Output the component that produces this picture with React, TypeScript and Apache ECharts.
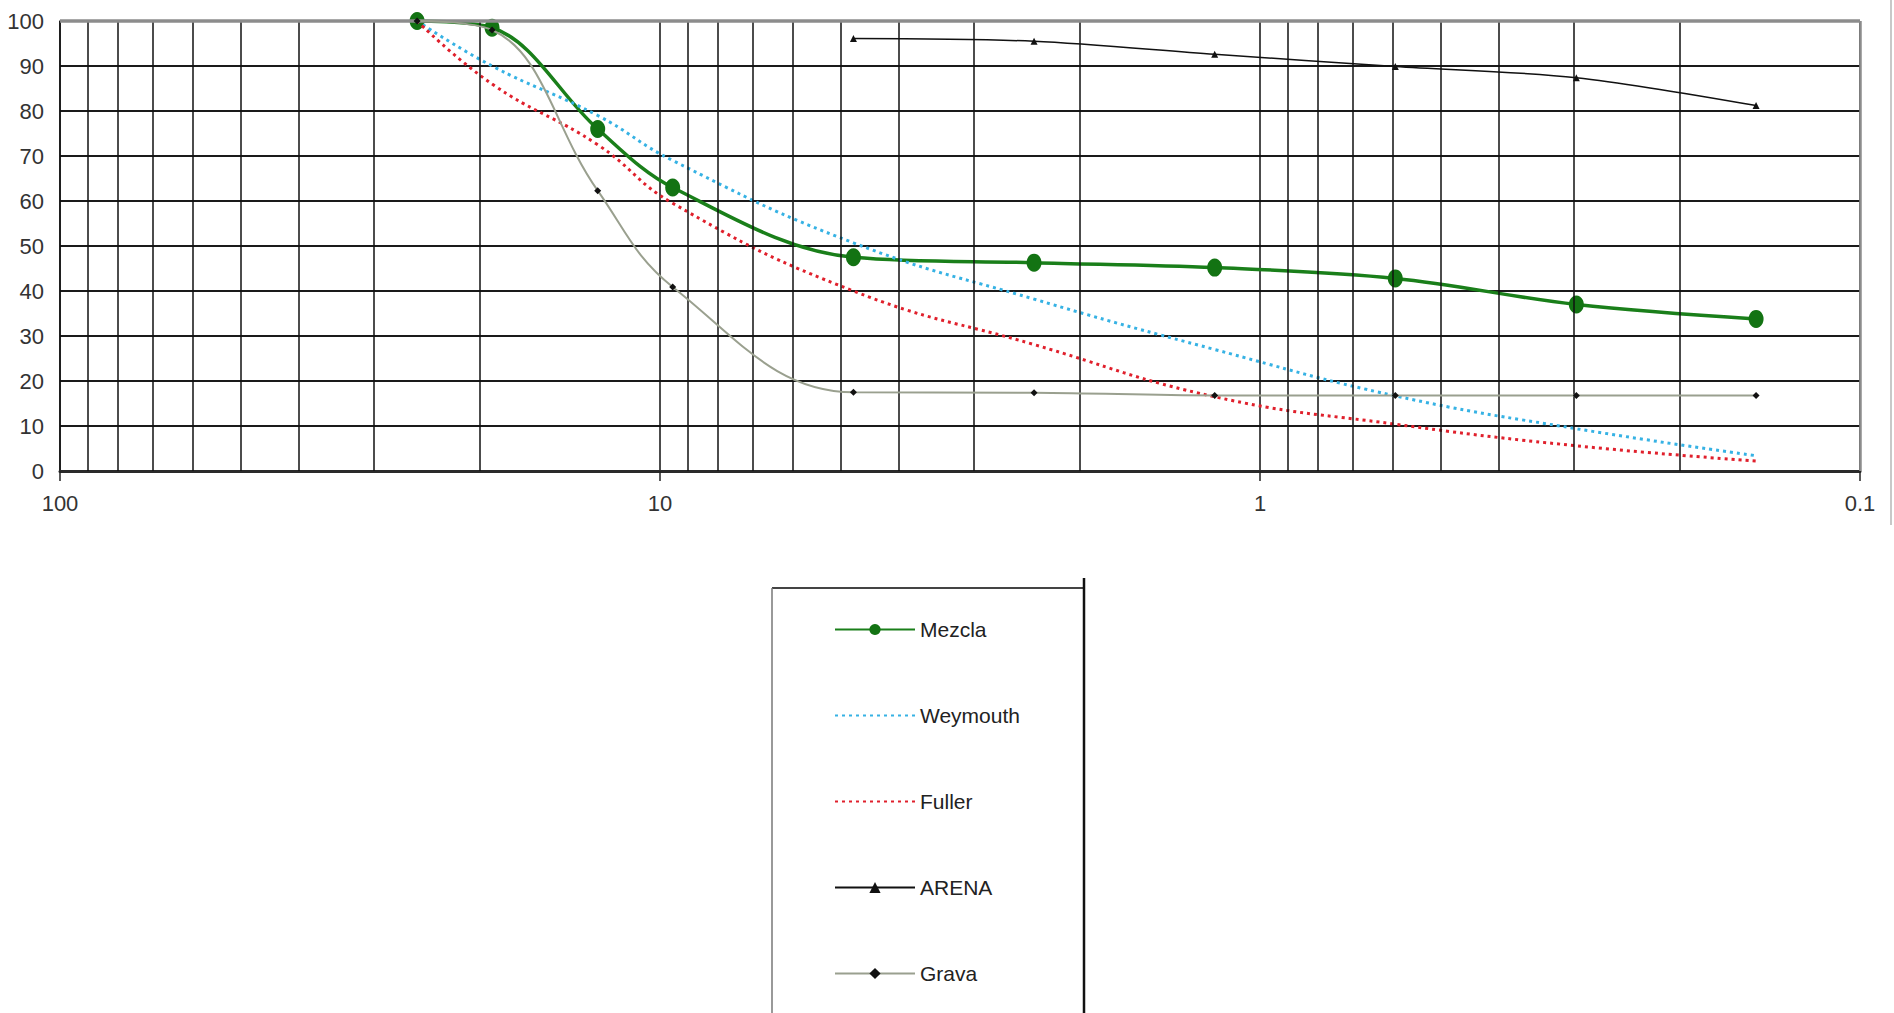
import React, { useEffect, useRef } from "react";
import * as echarts from "echarts";

// Sieve openings (mm) and % passing
const sieves = [25.4, 19.05, 12.7, 9.525, 4.76, 2.38, 1.19, 0.595, 0.297, 0.149];
const mezcla = [100, 98.5, 76, 63, 47.5, 46.3, 45.2, 42.8, 37, 33.8];
const weymouth = [100, 90, 79, 69, 50.7, 38.2, 27, 16.7, 9.4, 3.4];
const fuller = [100, 86, 72.5, 59.5, 40, 28.1, 16.5, 10.4, 5.6, 2.2];
const arena = [null, null, null, null, 96.1, 95.5, 92.6, 89.9, 87.4, 81.2];
const grava = [100, 98, 62.3, 40.9, 17.5, 17.4, 16.8, 16.8, 16.8, 16.8];

const seriesNames = ["Mezcla", "Weymouth", "Fuller", "ARENA", "Grava"];

// log-axis minor grid positions
const minorGrid = [
  90, 80, 70, 60, 50, 40, 30, 20,
  9, 8, 7, 6, 5, 4, 3, 2,
  0.9, 0.8, 0.7, 0.6, 0.5, 0.4, 0.3, 0.2,
];
const xMin = 0.1;
const xMax = 100;
const yMin = 0;
const yMax = 100;
const yStep = 10;

const pairs = (vals: (number | null)[]) =>
  sieves.map((s, i) => [s, vals[i]]).filter((p) => p[1] !== null);

export default function App() {
  const ref = useRef<HTMLDivElement>(null);

  useEffect(() => {
    document.body.style.margin = "0";
    document.body.style.overflow = "hidden";
    const chart = echarts.init(ref.current!, null, { renderer: "svg" });
    const narrow = "'Liberation Sans Narrow', 'Arial Narrow', 'Liberation Sans', Arial, sans-serif";
    const sans = "'Liberation Sans', Arial, sans-serif";
    const ySplitColors = Array.from({ length: 11 }, () => "#1a1a1a");

    chart.setOption({
      animation: false,
      backgroundColor: "#ffffff",
      grid: { left: 60, right: 34, top: 21, bottom: 542, containLabel: false },
      xAxis: {
        type: "log",
        logBase: 10,
        min: xMin,
        max: xMax,
        inverse: true,
        axisLine: { show: true, onZero: false, lineStyle: { color: "#2a2a2a", width: 3 } },
        axisTick: { show: true, length: 10, lineStyle: { color: "#222", width: 1.5 } },
        axisLabel: {
          margin: 21,
          fontFamily: narrow,
          fontSize: 22,
          color: "#333",
          formatter: (v: number) => String(parseFloat(Number(v).toPrecision(6))),
        },
        splitLine: { show: true, lineStyle: { color: "#111", width: 1.5 } },
      },
      yAxis: {
        type: "value",
        min: yMin,
        max: yMax,
        interval: yStep,
        axisLine: { show: true, lineStyle: { color: "#111", width: 1.5 } },
        axisTick: { show: false },
        axisLabel: { margin: 16, fontFamily: narrow, fontSize: 22, color: "#333" },
        splitLine: { show: true, lineStyle: { color: ySplitColors, width: 2 } },
      },
      legend: {
        data: [
          { name: "Mezcla" },
          { name: "Weymouth", itemStyle: { opacity: 0 } },
          { name: "Fuller", itemStyle: { opacity: 0 } },
          { name: "ARENA" },
          { name: "Grava" },
        ],
        orient: "vertical",
        left: 829,
        top: 614,
        itemWidth: 80,
        itemHeight: 14,
        itemGap: 65,
        selectedMode: false,
        textStyle: { fontSize: 21, fontFamily: sans, color: "#222" },
      },
      graphic: [
        { type: "line", shape: { x1: 772, y1: 588, x2: 1084, y2: 588 }, style: { stroke: "#444", lineWidth: 2 } },
        { type: "line", shape: { x1: 772, y1: 588, x2: 772, y2: 1013 }, style: { stroke: "#777", lineWidth: 1.5 } },
        { type: "line", shape: { x1: 1084, y1: 578, x2: 1084, y2: 1013 }, style: { stroke: "#111", lineWidth: 2.5 } },
        { type: "line", shape: { x1: 1891, y1: 0, x2: 1891, y2: 525 }, style: { stroke: "#c8c8c8", lineWidth: 2 } },
      ],
      series: [
        {
          name: "_grid",
          type: "line",
          data: [[1, 50]],
          symbol: "none",
          lineStyle: { opacity: 0 },
          silent: true,
          z: 1,
          markLine: {
            silent: true,
            symbol: ["none", "none"],
            label: { show: false },
            emphasis: { disabled: true },
            lineStyle: { color: "#111", width: 1.5, type: "solid" },
            data: [
              ...minorGrid.map((v) => ({ xAxis: v })),
              { yAxis: yMax, lineStyle: { color: "#8c8c8c", width: 3.5, type: "solid" } },
              { xAxis: xMin, lineStyle: { color: "#8c8c8c", width: 2.5, type: "solid" } },
            ],
          },
        },
        {
          name: "Mezcla",
          type: "line",
          data: pairs(mezcla),
          smooth: 0.35,
          z: 3,
          symbol: "circle",
          symbolSize: [15, 18],
          lineStyle: { color: "#1a7f1a", width: 3.5 },
          itemStyle: { color: "#137313" },
        },
        {
          name: "Weymouth",
          type: "line",
          data: pairs(weymouth),
          smooth: 0.45,
          z: 4,
          symbol: "none",
          lineStyle: { color: "#36b2e4", width: 3, type: [3, 4] },
          itemStyle: { color: "#36b2e4" },
        },
        {
          name: "Fuller",
          type: "line",
          data: pairs(fuller),
          smooth: 0.45,
          z: 4,
          symbol: "none",
          lineStyle: { color: "#e0202c", width: 3, type: [3, 4] },
          itemStyle: { color: "#e0202c" },
        },
        {
          name: "ARENA",
          type: "line",
          data: pairs(arena),
          smooth: 0.3,
          z: 5,
          symbol: "triangle",
          symbolSize: 7,
          lineStyle: { color: "#111", width: 1.5 },
          itemStyle: { color: "#111" },
        },
        {
          name: "Grava",
          type: "line",
          data: pairs(grava),
          smooth: 0.4,
          z: 6,
          symbol: "diamond",
          symbolSize: 7,
          lineStyle: { color: "#9aa08f", width: 2 },
          itemStyle: { color: "#111" },
        },
      ],
    });
    return () => chart.dispose();
  }, []);

  return (
    <div
      ref={ref}
      style={{ position: "fixed", left: 0, top: 0, width: 1894, height: 1013 }}
    />
  );
}
